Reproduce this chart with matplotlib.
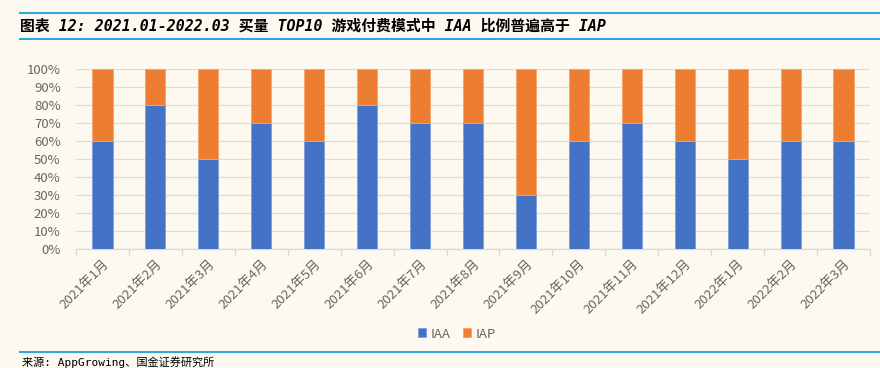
import numpy as np
import matplotlib.pyplot as plt
from matplotlib.lines import Line2D

plt.rcParams['font.family'] = ['Noto Sans CJK SC', 'DejaVu Sans']

# dados
meses = ['2021年1月', '2021年2月', '2021年3月', '2021年4月', '2021年5月', '2021年6月',
         '2021年7月', '2021年8月', '2021年9月', '2021年10月', '2021年11月', '2021年12月',
         '2022年1月', '2022年2月', '2022年3月']
iaa = [60, 80, 50, 70, 60, 80, 70, 70, 30, 60, 70, 60, 50, 60, 60]
iap = [100 - v for v in iaa]

bg = '#fdf9f0'
azul = '#4472c4'
laranja = '#ed7d31'
cinza = '#666666'

fig = plt.figure(figsize=(8.8, 3.68), dpi=100, facecolor=bg)
ax = fig.add_axes([76/880, 1 - 249/368, 794/880, 180/368], facecolor=bg)

x = np.arange(len(meses))
ax.bar(x, iaa, width=0.38, color=azul, edgecolor='#7f9fd8', linewidth=0.6, label='IAA', zorder=3)
ax.bar(x, iap, width=0.38, bottom=iaa, color=laranja, edgecolor='#f4a46e', linewidth=0.6, label='IAP', zorder=3)

ax.set_xlim(-0.5, len(meses) - 0.5)
ax.set_ylim(0, 100)
ax.set_yticks(np.arange(0, 101, 10))
ax.set_yticklabels([f'{v}%' for v in range(0, 101, 10)], color=cinza, fontsize=9.5)
ax.yaxis.grid(True, color='#dcdcdc', linewidth=0.9, zorder=0)
ax.tick_params(axis='y', length=0, pad=11)

ax.set_xticks(x)
ax.set_xticklabels(meses, rotation=45, ha='right', rotation_mode='anchor', color=cinza, fontsize=9.5)
ax.tick_params(axis='x', length=0, pad=6)
ax.set_xticks(np.arange(-0.5, len(meses), 1), minor=True)
ax.tick_params(axis='x', which='minor', length=5, color='#d9d9d9', width=0.9)

for s in ['top', 'right', 'left']:
    ax.spines[s].set_visible(False)
ax.spines['bottom'].set_color('#d9d9d9')
ax.spines['bottom'].set_linewidth(0.9)

leg = fig.legend(loc='center', bbox_to_anchor=(457/880, 1 - 334/368), ncol=2, frameon=False,
                 fontsize=9.5, handlelength=0.65, handleheight=0.65, handletextpad=0.35, columnspacing=0.9)
for t in leg.get_texts():
    t.set_color(cinza)

# titulo e linhas azuis
fig.add_artist(Line2D([20/880, 1], [1 - 13/368, 1 - 13/368], color='#2ea8e0', linewidth=1.5))
fig.add_artist(Line2D([20/880, 1], [1 - 39/368, 1 - 39/368], color='#2ea8e0', linewidth=1.5))
fig.add_artist(Line2D([20/880, 1], [1 - 352/368, 1 - 352/368], color='#2ea8e0', linewidth=1.5))
fig.text(20/880, 1 - 26/368, '图表 12: 2021.01-2022.03 买量 TOP10 游戏付费模式中 IAA 比例普遍高于 IAP',
         fontsize=10.7, fontweight='bold', style='italic', va='center', ha='left', color='black',
         family=['DejaVu Sans Mono', 'Noto Sans CJK SC'])
fig.text(22/880, 1 - 362/368, '来源: AppGrowing、国金证券研究所', fontsize=8, va='center', ha='left', color='black',
         family=['DejaVu Sans Mono', 'Noto Sans CJK SC'])

plt.savefig('out.png', dpi=100, facecolor=bg)
